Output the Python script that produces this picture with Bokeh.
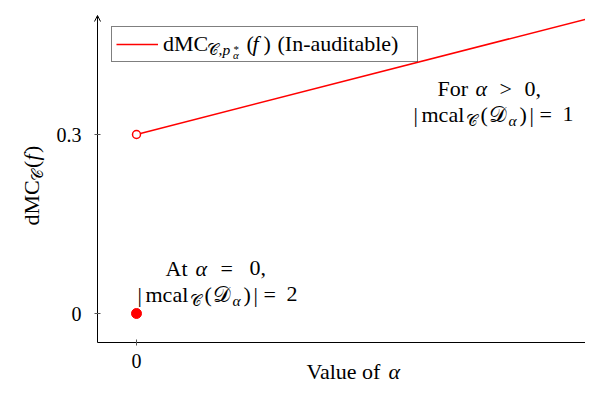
import math
from bokeh.plotting import figure
from bokeh.models import (Range1d, FixedTicker, Label, Legend, LegendItem,
                          Arrow, OpenHead, LinearAxis)
from bokeh.embed import file_html
from bokeh.resources import INLINE

# ---- data ----
alpha = [0.0, 1.0]
dmc = [0.3, 0.5]
open_x = [0.0]
open_y = [0.3]
filled_x = [0.0]
filled_y = [0.0]
x_ticks = [0]
y_ticks = [0, 0.3]
x_tick_labels = {0: "0"}
y_tick_labels = {0: "0", 0.3: "0.3"}

FONT = "Liberation Serif"
RED = "#ff0000"
S = 22      # main text size in px
SUB = 15.5  # subscript size
SS = 11     # second-level script size
K = 0.34    # label anchor -> alphabetic baseline offset (em)

# mapping helpers from reference pixel coords (layout placement only)
X0, XS = 136.0, 465.0
Y0, YS = 313.0, 179.0 / 0.3


def dx(rx):
    return (rx - X0) / XS


def dy(ry):
    return (Y0 - ry) / YS


W = 585
H = 383
p = figure(width=W, height=H, output_backend="svg", toolbar_location=None,
           x_range=Range1d(dx(0), dx(W)), y_range=Range1d(dy(H), dy(0)),
           x_axis_location=None, y_axis_location=None,
           min_border=0, title=None)
p.outline_line_color = None
p.background_fill_color = "white"
p.border_fill_color = "white"
p.grid.visible = False

xaxis = LinearAxis(fixed_location=dy(342), bounds=(dx(97), dx(610)))
yaxis = LinearAxis(fixed_location=dx(97), bounds=(dy(342), dy(17)))
p.add_layout(xaxis, "below")
p.add_layout(yaxis, "left")
for ax, ticks, labels in ((xaxis, x_ticks, x_tick_labels),
                          (yaxis, y_ticks, y_tick_labels)):
    ax.ticker = FixedTicker(ticks=ticks)
    ax.major_label_overrides = labels
    ax.minor_tick_line_color = None
    ax.major_tick_in = 3
    ax.major_tick_out = 3
    ax.major_tick_line_color = "#555555"
    ax.axis_line_color = "black"
    ax.axis_line_width = 1
    ax.major_label_text_font = FONT
    ax.major_label_text_font_size = "20px"
    ax.major_label_text_color = "black"
xaxis.major_label_standoff = 8
yaxis.major_label_standoff = 13

# arrow tip at the top of the y axis
p.add_layout(Arrow(end=OpenHead(size=6, line_width=1, line_color="black"),
                   x_start=dx(97), y_start=dy(30), x_end=dx(97), y_end=dy(15),
                   line_color="black", line_width=1))

line = p.line(alpha, dmc, line_color=RED, line_width=1.5)
p.scatter(open_x, open_y, size=8, marker="circle", line_color=RED,
          fill_color="white", line_width=1.5)
p.scatter(filled_x, filled_y, size=10, marker="circle", line_color=RED,
          fill_color=RED)

LEG_LEFT, LEG_BOTTOM = 111, 62
PAD, GLW, STAND = 4, 42, 5
legend = Legend(items=[LegendItem(label="dMC", renderers=[line])],
                location=(LEG_LEFT, H - LEG_BOTTOM), margin=0, padding=PAD,
                spacing=0, glyph_width=GLW, glyph_height=20,
                label_standoff=STAND, label_width=250, label_height=20,
                border_line_color="black", border_line_width=1,
                background_fill_alpha=0,
                label_text_font=FONT, label_text_font_size=f"{S}px",
                label_text_color="black")
p.add_layout(legend, "center")


def piece(text, rx, base, size, style="normal", angle=0.0):
    if angle == 0.0:
        ax_, ay_ = rx, base - K * size
    else:
        ax_, ay_ = base - K * size, rx
    p.add_layout(Label(x=dx(ax_), y=dy(ay_), text=text, text_font=FONT,
                       text_font_size=f"{size:.1f}px", text_font_style=style,
                       text_color="black", angle=angle, text_align="left",
                       text_baseline="alphabetic", level="overlay"))


CAL_C = '\U0001D49E'
CAL_D = '\U0001D49F'
ALPHA = '\u03b1'

# legend label remainder (follows the legend's own "dMC")
LB = 50.5
piece(CAL_C, 206, LB + 4, SUB)
piece(",", 218, LB + 4, SUB)
piece("p", 222, LB + 4, SUB, "italic")
piece("*", 233, LB + 1.5, SS)
piece(ALPHA, 232.5, LB + 7.5, SS, "italic")
piece("(", 246, LB, S)
piece("f", 252, LB, S, "italic")
piece(")", 263, LB, S)
piece("(In-auditable)", 277, LB, S)


def mcal(n, x0, base):
    off = x0 - 413
    for t, rx, sh, sz, st in (("|", 413, 0, S, "normal"),
                              ("mcal", 421, 0, S, "normal"),
                              (CAL_C, 465, 4, SUB, "normal"),
                              ("(", 480, 0, S, "normal"),
                              (CAL_D, 488, 0, S, "normal"),
                              (ALPHA, 508, 4, SUB, "italic"),
                              (")", 519, 0, S, "normal"),
                              ("|", 529, 0, S, "normal"),
                              ("=", 539, 0, S, "normal"),
                              (n, 562, 0, S, "normal")):
        piece(t, rx + off, base + sh, sz, st)


# annotation for alpha > 0
piece("For", 437, 95.5, S)
piece(ALPHA, 475, 95.5, S, "italic")
piece(">", 499, 95.5, S)
piece("0,", 524, 95.5, S)
mcal("1", 413, 121)

# annotation for alpha = 0
piece("At", 165, 275, S)
piece(ALPHA, 195, 275, S, "italic")
piece("=", 220, 275, S)
piece("0,", 249, 275, S)
mcal("2", 137, 301)

# x axis label
piece("Value of", 306, 378, S)
piece(ALPHA, 388, 378, S, "italic")

# y axis label (rotated, reading upwards; positions are along the page y)
R = math.pi / 2
YB = 38.5
piece("dMC", 225, YB, S, "normal", R)
piece(CAL_C, 180, YB + 4, SUB, "normal", R)
piece("(", 167.5, YB, S, "normal", R)
piece("f", 160, YB, S, "italic", R)
piece(")", 152.5, YB, S, "normal", R)

open("out.html", "w").write(file_html(p, INLINE))
